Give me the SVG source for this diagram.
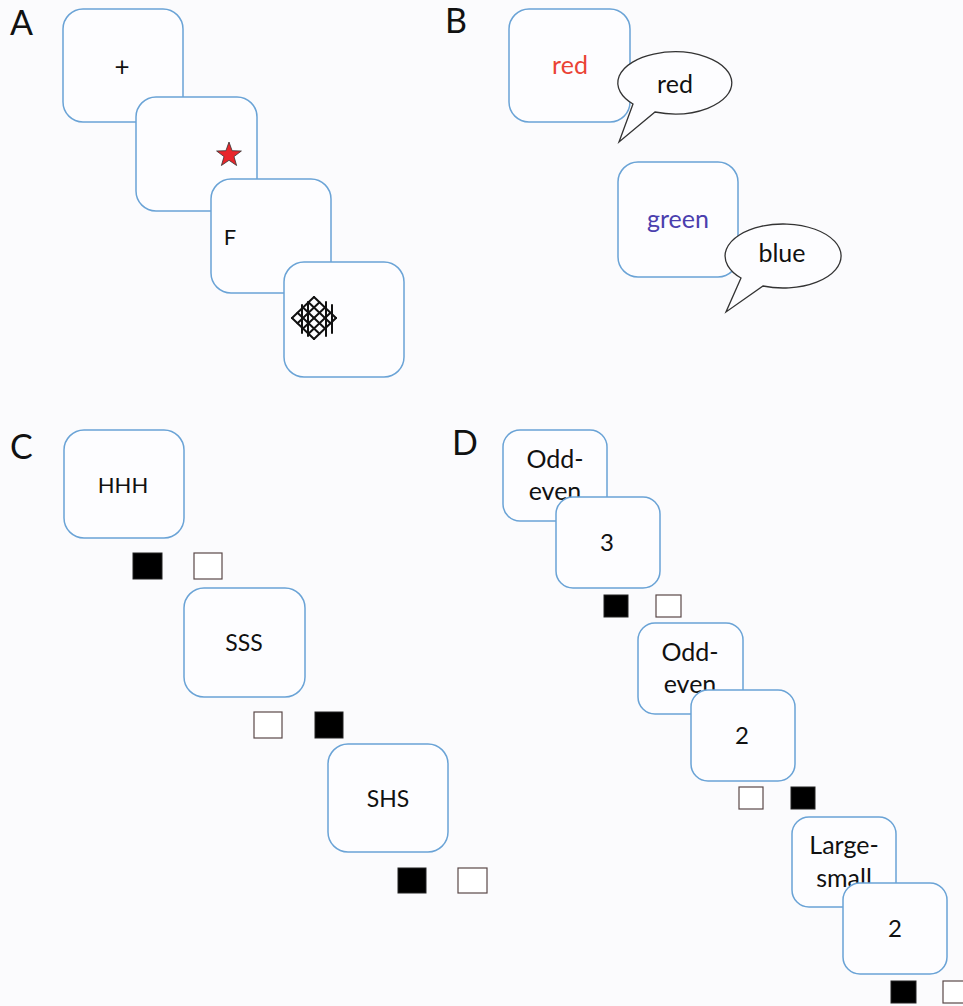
<svg xmlns="http://www.w3.org/2000/svg" width="963" height="1006" viewBox="0 0 963 1006">
<style>
.bg{fill:#fbfbfd}
.card{fill:#fdfdff;stroke:#6aa3d6;stroke-width:1.5}
.t{font-family:Lato,"Open Sans","Liberation Sans",sans-serif;fill:#111;text-anchor:middle}
.lbl{font-family:Lato,"Open Sans","Liberation Sans",sans-serif;fill:#111;font-size:34px}
.bub{fill:#fdfdff;stroke:#333;stroke-width:1.3;stroke-linejoin:miter}
.blk{fill:#000;stroke:#222;stroke-width:1}
.wht{fill:#fff;stroke:#5a4848;stroke-width:1.2}
.hatch{stroke:#111;stroke-width:2;fill:none;stroke-linecap:round}
</style>
<rect class="bg" x="0" y="0" width="963" height="1006"/>
<g id="labels">
<text class="lbl" x="10" y="35">A</text>
<text class="lbl" x="445" y="33">B</text>
<text class="lbl" x="10" y="459">C</text>
<text class="lbl" x="452" y="455">D</text>
</g>
<g id="A-fixation">
<rect class="card" x="63" y="9" width="120" height="113" rx="20"/>
<text class="t" x="122" y="76" font-size="26">+</text>
</g>
<g id="A-star">
<rect class="card" x="136" y="97" width="121" height="114" rx="20"/>
<polygon points="229,142 232.1,150.7 241.4,151 234,156.6 236.6,165.5 229,160.3 221.4,165.5 224,156.6 216.6,151 225.9,150.7" fill="#e8262b" stroke="#333" stroke-width="0.8"/>
</g>
<g id="A-letter">
<rect class="card" x="211" y="179" width="120" height="114" rx="20"/>
<text class="t" x="230" y="245" font-size="22">F</text>
</g>
<g id="A-mask">
<rect class="card" x="284" y="262" width="120" height="115" rx="20"/>
<g class="hatch">
<line x1="292" y1="318" x2="314" y2="339"/>
<line x1="297.5" y1="312.8" x2="319.5" y2="333.8"/>
<line x1="303" y1="307.5" x2="325" y2="328.5"/>
<line x1="308.5" y1="302.3" x2="330.5" y2="323.3"/>
<line x1="314" y1="297" x2="336" y2="318"/>
<line x1="292" y1="318" x2="314" y2="297"/>
<line x1="297.5" y1="323.3" x2="319.5" y2="302.3"/>
<line x1="303" y1="328.5" x2="325" y2="307.5"/>
<line x1="308.5" y1="333.8" x2="330.5" y2="312.8"/>
<line x1="314" y1="339" x2="336" y2="318"/>
<line x1="302" y1="305" x2="302" y2="333"/>
<line x1="308" y1="302" x2="308" y2="336"/>
<line x1="326" y1="302" x2="326" y2="336"/>
<line x1="332" y1="305" x2="332" y2="333"/>
</g>
</g>
<g id="B-congruent">
<rect class="card" x="509" y="9" width="121" height="113" rx="20"/>
<text class="t" x="570" y="74" font-size="25" style="fill:#ea4335">red</text>
</g>
<g id="B-bubble-red">
<path class="bub" d="M633,104 L619,142 L655,112 A57,31 0 1 0 633,104 Z"/>
<text class="t" x="675" y="93" font-size="25">red</text>
</g>
<g id="B-incongruent">
<rect class="card" x="618" y="162" width="120" height="115" rx="20"/>
<text class="t" x="678" y="228" font-size="25" style="fill:#4b3fae">green</text>
</g>
<g id="B-bubble-blue">
<path class="bub" d="M741,278 L726,312 L763,286 A58,32 0 1 0 741,278 Z"/>
<text class="t" x="782" y="262" font-size="25">blue</text>
</g>
<g id="C-HHH">
<rect class="card" x="64" y="430" width="120" height="108" rx="20"/>
<text class="t" x="123" y="493" font-size="22">HHH</text>
</g>
<g id="C-keys1">
<rect class="blk" x="133" y="553" width="29" height="26"/>
<rect class="wht" x="194" y="553" width="28" height="26"/>
</g>
<g id="C-SSS">
<rect class="card" x="184" y="588" width="121" height="109" rx="20"/>
<text class="t" x="244" y="651" font-size="23">SSS</text>
</g>
<g id="C-keys2">
<rect class="wht" x="254" y="712" width="28" height="26"/>
<rect class="blk" x="315" y="712" width="28" height="26"/>
</g>
<g id="C-SHS">
<rect class="card" x="328" y="744" width="120" height="108" rx="20"/>
<text class="t" x="388" y="807" font-size="23">SHS</text>
</g>
<g id="C-keys3">
<rect class="blk" x="398" y="868" width="28" height="25"/>
<rect class="wht" x="458" y="868" width="29" height="25"/>
</g>
<g id="D-cue1">
<rect class="card" x="503" y="430" width="104" height="91" rx="17"/>
<text class="t" x="555" y="468" font-size="25">Odd-</text>
<text class="t" x="555" y="500" font-size="25">even</text>
</g>
<g id="D-num3">
<rect class="card" x="556" y="497" width="104" height="91" rx="17"/>
<text class="t" x="607" y="551" font-size="24">3</text>
</g>
<g id="D-keys1">
<rect class="blk" x="604" y="595" width="24" height="22"/>
<rect class="wht" x="656" y="595" width="25" height="22"/>
</g>
<g id="D-cue2">
<rect class="card" x="638" y="623" width="105" height="91" rx="17"/>
<text class="t" x="690" y="661" font-size="25">Odd-</text>
<text class="t" x="690" y="693" font-size="25">even</text>
</g>
<g id="D-num2a">
<rect class="card" x="691" y="690" width="104" height="91" rx="17"/>
<text class="t" x="742" y="744" font-size="24">2</text>
</g>
<g id="D-keys2">
<rect class="wht" x="739" y="787" width="24" height="22"/>
<rect class="blk" x="791" y="787" width="24" height="22"/>
</g>
<g id="D-cue3">
<rect class="card" x="792" y="817" width="104" height="90" rx="17"/>
<text class="t" x="844" y="854" font-size="25">Large-</text>
<text class="t" x="844" y="887" font-size="25">small</text>
</g>
<g id="D-num2b">
<rect class="card" x="843" y="883" width="104" height="91" rx="17"/>
<text class="t" x="895" y="937" font-size="24">2</text>
</g>
<g id="D-keys3">
<rect class="blk" x="891" y="981" width="25" height="22"/>
<rect class="wht" x="943" y="981" width="25" height="22"/>
</g>
<g id="connectors"/>
</svg>
